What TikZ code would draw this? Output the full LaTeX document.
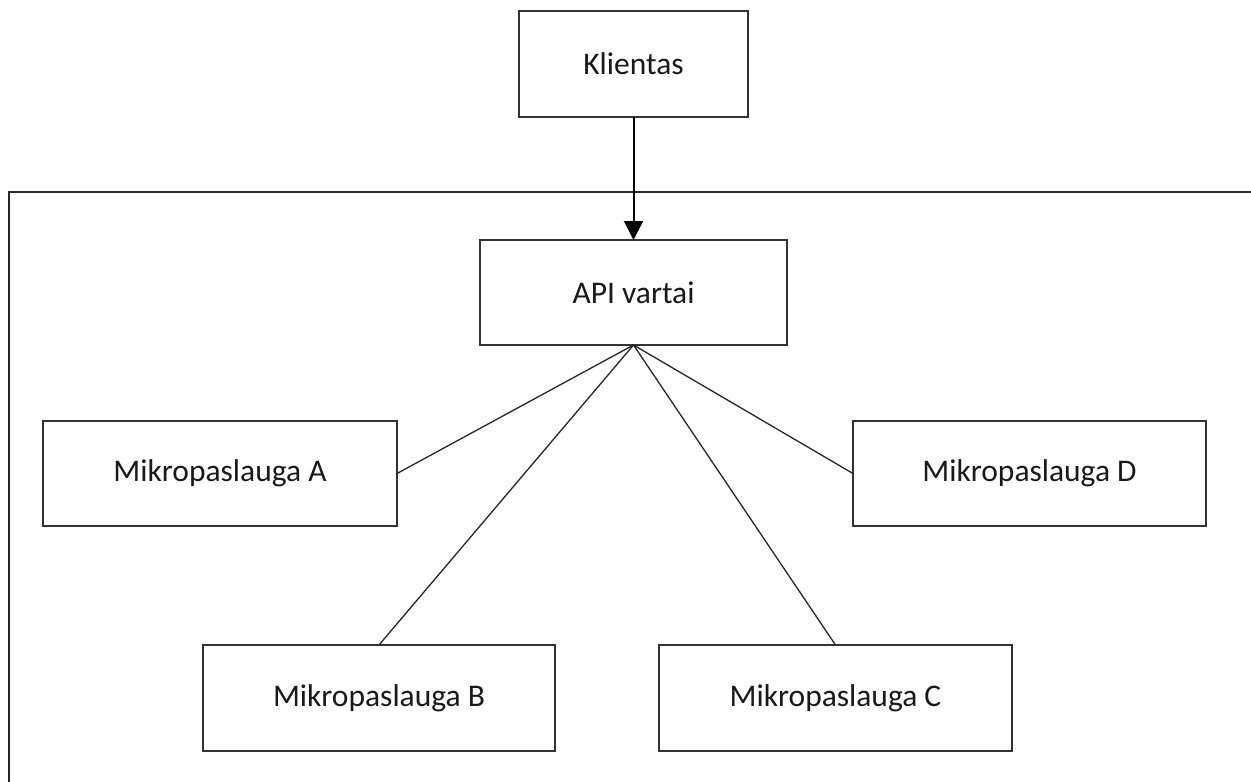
\documentclass[tikz,border=0pt]{standalone}
\usepackage{fontspec}
\setmainfont{Carlito}
\usetikzlibrary{arrows.meta}
\begin{document}
\begin{tikzpicture}[x=1pt,y=-1pt,
  box/.style={draw=black!80,line width=1.4pt,rectangle,inner sep=0pt,outer sep=0pt,
    font=\fontsize{31.5}{38}\selectfont,text=black!90},
  link/.style={draw=black!85,line width=1.3pt},
  call/.style={draw=black,line width=2pt,-{Triangle[width=19pt,length=19pt]}}]
\useasboundingbox (0,0) rectangle (1251,782);
% system boundary, open to the right and below
\draw[black!85,line width=1.4pt] (1260,192) -- (9,192) -- (9,800);
% components
\node[box,minimum width=229pt,minimum height=106pt] (client) at (633.5,64) {Klientas};
\node[box,minimum width=307pt,minimum height=105pt] (gw) at (633.5,292.5) {API vartai};
\node[box,minimum width=354pt,minimum height=105pt] (msa) at (220,473.5) {Mikropaslauga A};
\node[box,minimum width=353pt,minimum height=105pt] (msd) at (1029.5,473.5) {Mikropaslauga D};
\node[box,minimum width=352pt,minimum height=106pt] (msb) at (379,698) {Mikropaslauga B};
\node[box,minimum width=353pt,minimum height=106pt] (msc) at (835.5,698) {Mikropaslauga C};
% connections
\draw[call] (client.south) -- (gw.north);
\draw[link] (gw.south) -- (msa.east);
\draw[link] (gw.south) -- (msb.north);
\draw[link] (gw.south) -- (msc.north);
\draw[link] (gw.south) -- (msd.west);
\end{tikzpicture}
\end{document}
